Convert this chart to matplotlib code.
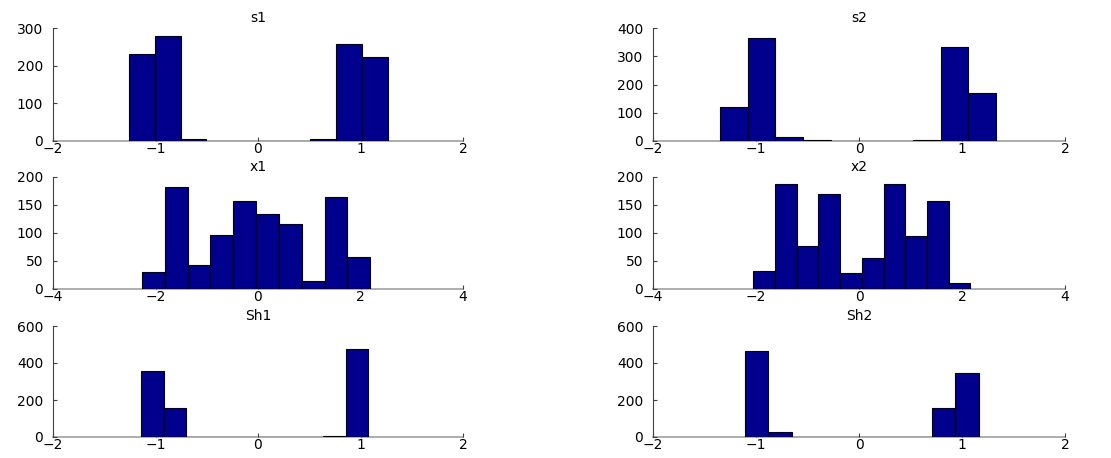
import numpy as np
import matplotlib
matplotlib.use("Agg")
import matplotlib.pyplot as plt

titles = ["s1", "s2", "x1", "x2", "Sh1", "Sh2"]

# histogram counts (10 bins each)
s1_counts = [232, 280, 4, 1, 1, 1, 1, 4, 258, 223]
s2_counts = [121, 365, 14, 2, 1, 1, 1, 5, 333, 170]
x1_counts = [30, 183, 42, 97, 158, 134, 116, 14, 165, 58]
x2_counts = [33, 188, 77, 169, 29, 56, 187, 95, 158, 10]
sh1_counts = [355, 158, 1, 1, 1, 1, 1, 1, 6, 478]
sh2_counts = [467, 29, 1, 1, 1, 1, 1, 1, 158, 347]

# data range (first and last bin edge)
s1_range = (-1.262, 1.268)
s2_range = (-1.346, 1.330)
x1_range = (-2.263, 2.190)
x2_range = (-2.050, 2.160)
sh1_range = (-1.1415, 1.076)
sh2_range = (-1.109, 1.161)

counts = [s1_counts, s2_counts, x1_counts, x2_counts, sh1_counts, sh2_counts]
ranges = [s1_range, s2_range, x1_range, x2_range, sh1_range, sh2_range]

x_ticks_s = [-2, -1, 0, 1, 2]
x_ticks_x = [-4, -2, 0, 2, 4]
y_ticks = [[0, 100, 200, 300], [0, 100, 200, 300, 400],
           [0, 50, 100, 150, 200], [0, 50, 100, 150, 200],
           [0, 200, 400, 600], [0, 200, 400, 600]]
x_ticks = [x_ticks_s, x_ticks_s, x_ticks_x, x_ticks_x, x_ticks_s, x_ticks_s]

plt.rcParams['font.family'] = ['DejaVu Sans']
fig = plt.figure(figsize=(11.11, 4.58), dpi=100)

W, H = 1111, 458
cols = [(53, 410), (653, 412)]
rows = [(28, 141), (177, 289), (326, 437)]

bar_color = '#00008c'
fs = 10

for i in range(6):
    r, c = divmod(i, 2)
    x0, w = cols[c]
    ytop, ybot = rows[r]
    ax = fig.add_axes([x0 / W, 1 - ybot / H, w / W, (ybot - ytop) / H])
    lo, hi = ranges[i]
    edges = np.linspace(lo, hi, len(counts[i]) + 1)
    ax.bar(edges[:-1], counts[i], width=np.diff(edges), align='edge',
           color=bar_color, edgecolor='black', linewidth=0.8, zorder=2)
    ax.set_xlim(x_ticks[i][0], x_ticks[i][-1])
    ax.set_ylim(y_ticks[i][0], y_ticks[i][-1])
    ax.set_xticks(x_ticks[i])
    ax.set_yticks(y_ticks[i])
    ax.set_title(titles[i], fontsize=fs, pad=4)
    for s in ['top', 'right']:
        ax.spines[s].set_visible(False)
    ax.spines['left'].set_color('#404040')
    ax.spines['left'].set_linewidth(0.8)
    ax.spines['bottom'].set_color('#a0a0a0')
    ax.spines['bottom'].set_linewidth(1.2)
    ax.spines['bottom'].set_zorder(1)
    ax.tick_params(axis='both', direction='in', length=3, width=0.8,
                   labelsize=fs, color='#404040')
    ax.tick_params(axis='x', pad=1)
    ax.tick_params(axis='y', pad=7)

fig.savefig("out.png", dpi=100)
